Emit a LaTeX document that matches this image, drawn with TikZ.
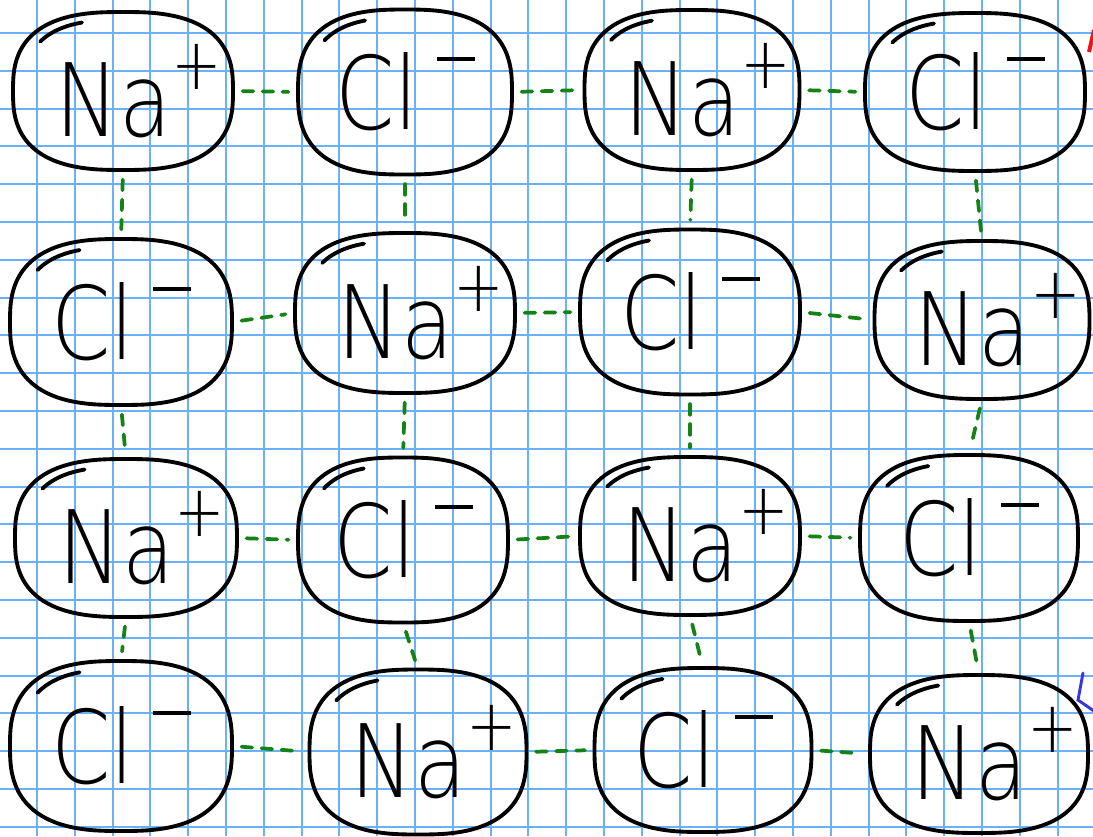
\documentclass[tikz,border=0pt]{standalone}
\usepackage{fontspec}
\setmainfont{DejaVuSans-ExtraLight.ttf}
\usetikzlibrary{shapes.geometric}
\definecolor{gridblue}{RGB}{105,178,250}
\definecolor{grn}{RGB}{20,130,20}
\definecolor{mkred}{RGB}{240,20,20}
\definecolor{mkblue}{RGB}{55,55,225}
\tikzset{
  gridline/.style={draw=gridblue,line width=1.5pt},
  ionshape/.style={ellipse,draw=none,inner sep=0pt},
  ionline/.style={draw=black,line width=2.9pt,line cap=round,line join=round},
  iontext/.style={inner sep=0pt,font=\fontsize{76}{76}\selectfont},
  conn/.style={draw=grn,line width=2.8pt,dash pattern=on 8pt off 7pt,
    shorten <=7pt,shorten >=7pt,line cap=round}
}
\newcommand{\napl}{\hspace*{.32em}\scalebox{.84}[1]{Na\raisebox{.47em}{\fontsize{54}{54}\selectfont +}}}
\newcommand{\clmi}{\scalebox{.84}[1]{Cl\hspace{.22em}\rule[.68em]{.44em}{2.6pt}}}
\newcommand{\mkion}[6]{%
  \node[ionshape,minimum width=#4*0.75pt,minimum height=#5*0.75pt] (#1) at (#2,#3) {};
  \draw[ionline] plot[domain=2.5:357.5,samples=72,smooth cycle,variable=\t]
    ({#2+#4/2*sign(cos(\t))*abs(cos(\t))^0.75},{#3+#5/2*sign(sin(\t))*abs(sin(\t))^0.75});
  \draw[ionline] plot[domain=218:252,samples=8,smooth,variable=\t]
    ({#2+0.9*#4/2*sign(cos(\t))*abs(cos(\t))^0.75},{#3+0.9*#5/2*sign(sin(\t))*abs(sin(\t))^0.75});
  \node[iontext] (#1t) at (#2,#3) {#6};}
\begin{document}
\begin{tikzpicture}[x=0.75pt,y=-0.75pt]
\useasboundingbox (0,0) rectangle (1093,836);
\fill[white] (0,0) rectangle (1093,836);
\begin{scope}
\clip (0,0) rectangle (1093,836);
\foreach \gx in {0,...,29} \draw[gridline] ({round(-0.8+37.8*\gx)},0) -- ({round(-0.8+37.8*\gx)},836);
\foreach \gy in {0,...,22} \draw[gridline] (0,{round(-4.8+37.8*\gy)}) -- (1093,{round(-4.8+37.8*\gy)});
\end{scope}
% ions
\mkion{A11}{123}{91}{220}{158}{\napl}
\mkion{A12}{405}{92}{214}{165}{\clmi}
\mkion{A13}{692}{90}{215}{160}{\napl}
\mkion{A14}{975}{92}{220}{158}{\clmi}
\mkion{A21}{121}{322}{222}{166}{\clmi}
\mkion{A22}{405}{313}{220}{160}{\napl}
\mkion{A23}{690}{312}{220}{165}{\clmi}
\mkion{A24}{982}{320}{215}{158}{\napl}
\mkion{A31}{126}{538}{222}{158}{\napl}
\mkion{A32}{403}{540}{210}{165}{\clmi}
\mkion{A33}{690}{536}{220}{158}{\napl}
\mkion{A34}{969}{538}{218}{166}{\clmi}
\mkion{A41}{121}{746}{222}{170}{\clmi}
\mkion{A42}{418}{752}{217}{165}{\napl}
\mkion{A43}{703}{750}{217}{164}{\clmi}
\mkion{A44}{979}{754}{218}{158}{\napl}
% horizontal bonds
\foreach \r in {1,2,3,4}{
  \draw[conn] (A\r1.east) -- (A\r2.west);
  \draw[conn] (A\r2.east) -- (A\r3.west);
  \draw[conn] (A\r3.east) -- (A\r4.west);
}
% vertical bonds
\foreach \c in {1,2,3,4}{
  \draw[conn] (A1\c.south) -- (A2\c.north);
  \draw[conn] (A2\c.south) -- (A3\c.north);
  \draw[conn] (A3\c.south) -- (A4\c.north);
}
% marks at the right edge
\draw[mkred,line width=3pt] (1089,52) -- (1094,30);
\draw[mkblue,line width=2.2pt,line cap=round] (1083,673) -- (1078,700) -- (1094,711);
\end{tikzpicture}
\end{document}
